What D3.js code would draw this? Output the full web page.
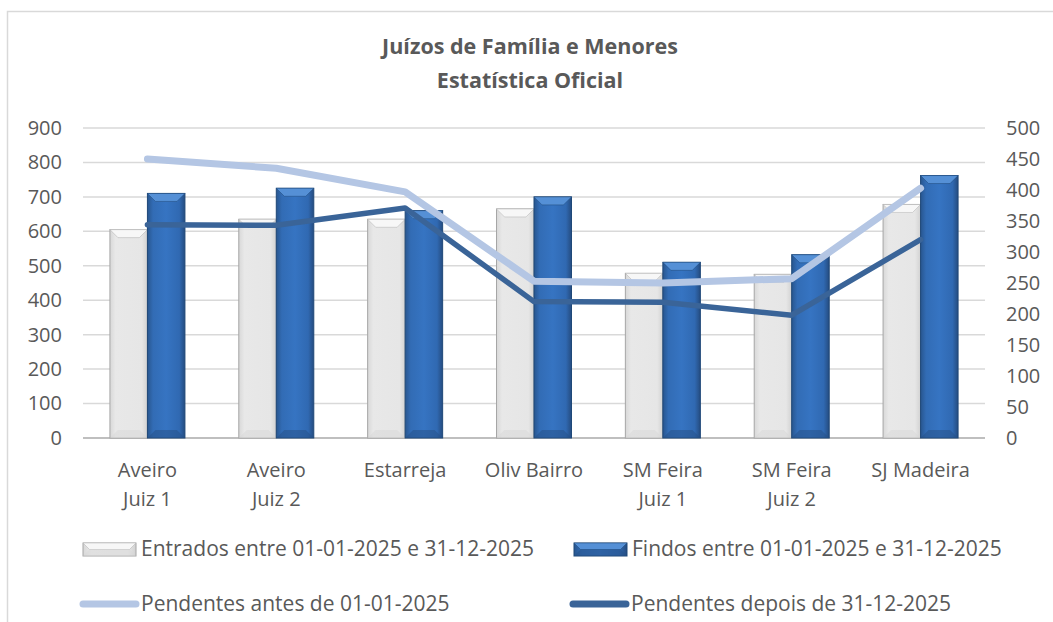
<!DOCTYPE html>
<html>
<head>
<meta charset="utf-8">
<script src="https://cdn.jsdelivr.net/npm/d3@7"></script>
<style>
  body { margin: 0; background: #fff; }
  text { font-family: "Open Sans", sans-serif; fill: #595959; }
</style>
</head>
<body>
<div id="chart"></div>
<script>
// -------- Data --------
const categories = ['Aveiro Juiz 1', 'Aveiro Juiz 2', 'Estarreja', 'Oliv Bairro',
                    'SM Feira Juiz 1', 'SM Feira Juiz 2', 'SJ Madeira'];
const categoryLines = [['Aveiro', 'Juiz 1'], ['Aveiro', 'Juiz 2'], ['Estarreja'], ['Oliv Bairro'],
                       ['SM Feira', 'Juiz 1'], ['SM Feira', 'Juiz 2'], ['SJ Madeira']];
const entrados = [605, 635, 635, 665, 478, 475, 678];
const findos   = [710, 725, 660, 700, 510, 532, 762];
const antes    = [450, 435, 397, 253, 250, 257, 403];
const depois   = [344, 343, 371, 220, 219, 198, 320];
const leftTicks  = d3.range(0, 901, 100);
const rightTicks = d3.range(0, 501, 50);
const seriesNames = ['Entrados entre 01-01-2025 e 31-12-2025', 'Findos entre 01-01-2025 e 31-12-2025',
                     'Pendentes antes de 01-01-2025', 'Pendentes depois de 31-12-2025'];

// -------- Dimensions --------
const W = 1053, H = 622;
const plot = { left: 83, right: 985, top: 128, bottom: 438 };

const svg = d3.select('#chart').append('svg')
  .attr('width', W).attr('height', H);

// chart border
svg.append('rect')
  .attr('x', 7.5).attr('y', 11.5).attr('width', 1060).attr('height', 640)
  .attr('fill', 'none').attr('stroke', '#d9d9d9').attr('stroke-width', 1.5);

// -------- Gradients --------
const defs = svg.append('defs');
function hGrad(id, stops) {
  const g = defs.append('linearGradient').attr('id', id)
    .attr('x1', '0%').attr('x2', '100%').attr('y1', '0%').attr('y2', '0%');
  stops.forEach(([o, c]) => g.append('stop').attr('offset', o).attr('stop-color', c));
}
hGrad('grayGrad', [['0%', '#d8d8d8'], ['15%', '#e8e8e8'], ['85%', '#e6e6e6'], ['100%', '#d2d2d2']]);
hGrad('blueGrad', [['0%', '#28568f'], ['15%', '#326cb5'], ['50%', '#3674c2'], ['85%', '#3069b2'], ['100%', '#254c80']]);

// -------- Scales --------
const x0 = d3.scaleBand().domain(categories).range([plot.left, plot.right]);
const bw = x0.bandwidth();
const x1 = d3.scaleBand().domain(['entrados', 'findos'])
  .range([bw / 2 - 37.5, bw / 2 + 37.5]);
const yL = d3.scaleLinear().domain([0, 900]).range([plot.bottom, plot.top]);
const yR = d3.scaleLinear().domain([0, 500]).range([plot.bottom, plot.top]);

// -------- Grid --------
svg.append('g').selectAll('line')
  .data(leftTicks)
  .join('line')
    .attr('x1', plot.left).attr('x2', plot.right)
    .attr('y1', d => yL(d)).attr('y2', d => yL(d))
    .attr('stroke', d => d === 0 ? '#bfbfbf' : '#d9d9d9')
    .attr('stroke-width', d => d === 0 ? 2 : 1.5);

// -------- Axes labels --------
const axL = d3.axisLeft(yL).tickValues(leftTicks).tickSize(0).tickPadding(0);
svg.append('g').attr('transform', `translate(62,0)`).call(axL)
  .call(g => g.select('.domain').remove())
  .selectAll('text').style('font-size', '20px').attr('fill', '#595959');

const axR = d3.axisRight(yR).tickValues(rightTicks).tickSize(0).tickPadding(0);
svg.append('g').attr('transform', `translate(1006,0)`).call(axR)
  .call(g => g.select('.domain').remove())
  .selectAll('text').style('font-size', '20px').attr('fill', '#595959');

svg.selectAll('.tick text').style('font-family', '"Open Sans", sans-serif');

// category labels
svg.append('g').selectAll('text')
  .data(categories)
  .join('text')
    .attr('text-anchor', 'middle')
    .attr('x', d => x0(d) + bw / 2)
    .attr('y', 477)
    .style('font-size', '20px')
    .each(function(d, i) {
      const t = d3.select(this);
      categoryLines[i].forEach((ln, j) => {
        t.append('tspan').attr('x', x0(d) + bw / 2).attr('dy', j === 0 ? 0 : 29).text(ln);
      });
    });

// -------- Bars --------
function bevelBar(g, x, y, w, h, kind) {
  const dark = kind === 'findos';
  const b = Math.min(8, h / 2);
  g.append('rect')
    .attr('x', x).attr('y', y).attr('width', w).attr('height', h)
    .attr('fill', dark ? 'url(#blueGrad)' : 'url(#grayGrad)')
    .attr('stroke', dark ? '#1f4878' : '#a6a6a6').attr('stroke-width', 1);
  // top bevel
  g.append('path')
    .attr('d', `M${x},${y} L${x + w},${y} L${x + w - b},${y + b} L${x + b},${y + b} Z`)
    .attr('fill', dark ? '#5590d6' : '#f7f7f7')
    .attr('stroke', dark ? '#1f4878' : '#b0b0b0').attr('stroke-width', 0.5);
  // bottom bevel
  g.append('path')
    .attr('d', `M${x},${y + h} L${x + w},${y + h} L${x + w - b},${y + h - b} L${x + b},${y + h - b} Z`)
    .attr('fill', dark ? '#264f86' : '#d8d8d8').attr('opacity', 0.5);
}

const barG = svg.append('g');
categories.forEach((c, i) => {
  [['entrados', entrados[i]], ['findos', findos[i]]].forEach(([k, v]) => {
    const x = x0(c) + x1(k);
    bevelBar(barG, x, yL(v), x1.bandwidth(), yL(0) - yL(v), k);
  });
});

// -------- Lines --------
const lineGen = d3.line()
  .x((d, i) => x0(categories[i]) + bw / 2)
  .y(d => yR(d));

svg.append('path').datum(antes)
  .attr('d', lineGen).attr('fill', 'none')
  .attr('stroke', '#b4c6e4').attr('stroke-width', 7)
  .attr('stroke-linecap', 'round').attr('stroke-linejoin', 'round');

svg.append('path').datum(depois)
  .attr('d', lineGen).attr('fill', 'none')
  .attr('stroke', '#3a6498').attr('stroke-width', 5.5)
  .attr('stroke-linecap', 'round').attr('stroke-linejoin', 'round');

// -------- Title --------
const title = svg.append('text').attr('text-anchor', 'middle')
  .style('font-size', '21.5px').style('font-weight', 'bold');
title.append('tspan').attr('x', 530).attr('y', 54).text('Juízos de Família e Menores');
title.append('tspan').attr('x', 530).attr('y', 88).text('Estatística Oficial');

// -------- Legend --------
const legend = svg.append('g');
const legendPos = [[83, 549], [574, 549], [80, 604], [570, 604]];

bevelBar(legend, legendPos[0][0], legendPos[0][1] - 6, 53, 13, 'entrados');
bevelBar(legend, legendPos[1][0], legendPos[1][1] - 6, 53, 13, 'findos');
legend.append('line')
  .attr('x1', legendPos[2][0] + 3).attr('x2', legendPos[2][0] + 56)
  .attr('y1', legendPos[2][1]).attr('y2', legendPos[2][1])
  .attr('stroke', '#b4c6e4').attr('stroke-width', 7).attr('stroke-linecap', 'round');
legend.append('line')
  .attr('x1', legendPos[3][0] + 3).attr('x2', legendPos[3][0] + 56)
  .attr('y1', legendPos[3][1]).attr('y2', legendPos[3][1])
  .attr('stroke', '#3a6498').attr('stroke-width', 7).attr('stroke-linecap', 'round');

legend.selectAll('text.lbl')
  .data(seriesNames)
  .join('text')
    .attr('class', 'lbl')
    .attr('x', (d, i) => legendPos[i][0] + (i < 2 ? 58 : 61))
    .attr('y', (d, i) => legendPos[i][1] + 7)
    .style('font-size', '21px')
    .text(d => d);
</script>
</body>
</html>
